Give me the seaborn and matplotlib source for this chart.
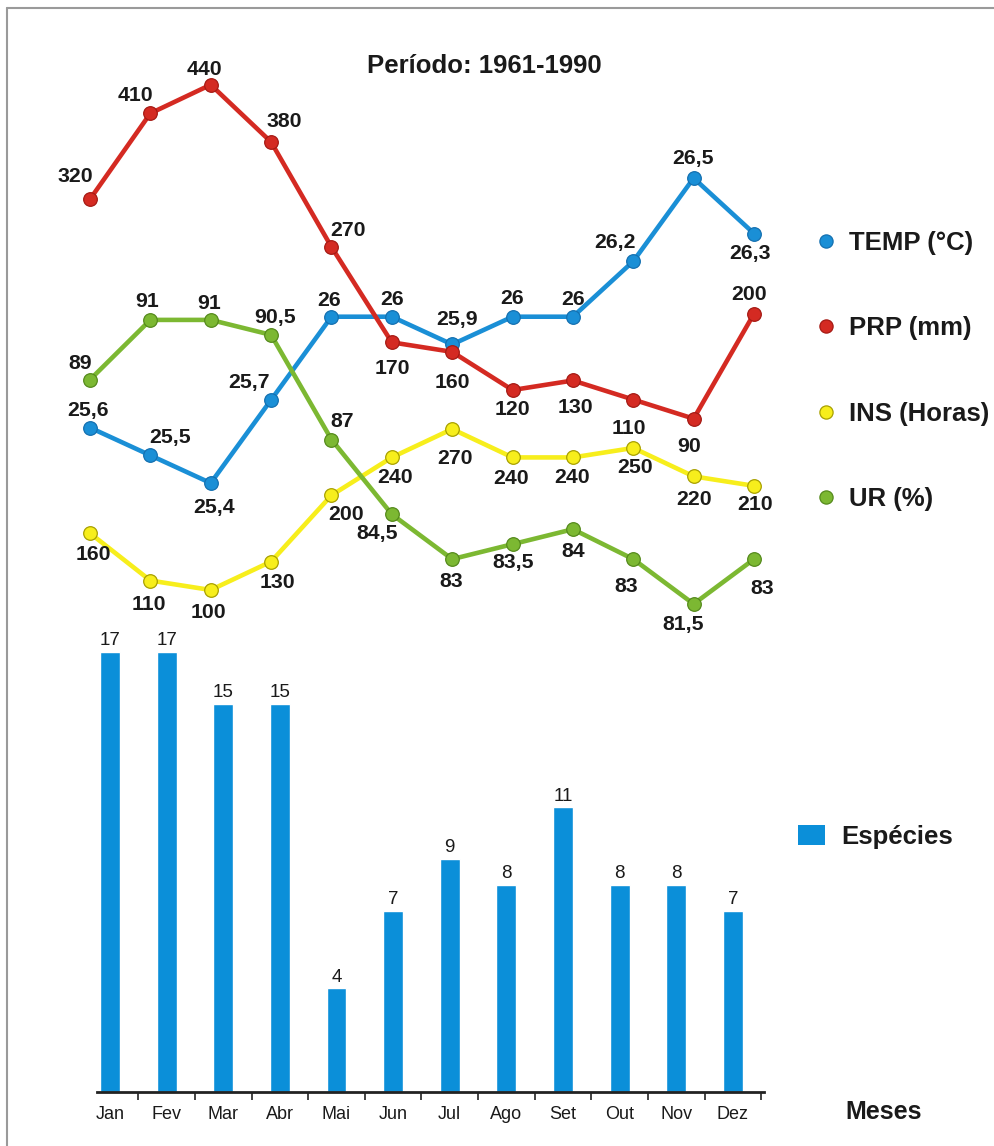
import numpy as np
import pandas as pd
import matplotlib
matplotlib.use("Agg")
import matplotlib.pyplot as plt
from matplotlib.lines import Line2D
from matplotlib.patches import Patch
import seaborn as sns

# ---------------- data ----------------
months = ["Jan", "Fev", "Mar", "Abr", "Mai", "Jun", "Jul", "Ago", "Set", "Out", "Nov", "Dez"]
temp = [25.6, 25.5, 25.4, 25.7, 26, 26, 25.9, 26, 26, 26.2, 26.5, 26.3]      # TEMP (°C)
prp = [320, 410, 440, 380, 270, 170, 160, 120, 130, 110, 90, 200]            # PRP (mm)
ins = [160, 110, 100, 130, 200, 240, 270, 240, 240, 250, 220, 210]           # INS (Horas)
ur = [89, 91, 91, 90.5, 87, 84.5, 83, 83.5, 84, 83, 81.5, 83]                # UR (%)
especies = [17, 17, 15, 15, 4, 7, 9, 8, 11, 8, 8, 7]                          # Espécies

title = "Período: 1961-1990"
xlabel = "Meses"

# value-label offsets in pixels (dx, dy) for each climate series
off_temp = [(-2, 17), (20, 18), (3, -24), (-22, 17), (-2, 16), (0, 17),
            (5, 25), (0, 18), (0, 17), (-18, 19), (-1, 20), (-4, -20)]
off_prp = [(-15, 23), (-15, 18), (-6, 15), (13, 20), (17, 16), (1, -26),
           (0, -31), (0, -19), (3, -27), (-4, -29), (-5, -28), (-5, 19)]
off_ins = [(3, -21), (-1, -24), (-2, -22), (6, -21), (15, -19), (3, -20),
           (3, -29), (-1, -21), (-1, -20), (2, -20), (0, -23), (1, -19)]
off_ur = [(-10, 16), (-3, 18), (-2, 16), (4, 17), (11, 18), (-15, -19),
          (-1, -22), (1, -18), (0, -22), (-7, -27), (-11, -21), (8, -29)]

df = pd.DataFrame({"mes": months, "pos": np.arange(len(months)),
                   "temp": temp, "prp": prp, "ins": ins, "ur": ur,
                   "especies": especies})

# ---------------- style ----------------
sns.set_theme(style="white")
plt.rcParams["font.family"] = ["Liberation Sans", "DejaVu Sans"]
plt.rcParams["text.color"] = "#1a1a1a"

W, H = 995, 1146
fig = plt.figure(figsize=(W / 100, H / 100), dpi=100)


def fx(px):
    return px / W


def fy(py):
    return 1 - py / H


def br(v):
    return f"{v:g}".replace(".", ",")


BLUE, BLUE_E = "#1a8fd6", "#1470b0"
RED, RED_E = "#d42a22", "#a51a14"
YEL, YEL_E = "#f7ee1c", "#a8a000"
GRN, GRN_E = "#7cb832", "#558a1c"
BAR = "#0b8fd9"

# ---------------- climate lines (each on its own scale) ----------------
ax_ins = fig.add_axes([fx(59.8), fy(640), 724.4 / W, 600 / H])
ax_ins.set_facecolor("none")
ax_tmp = ax_ins.twinx()
ax_prp = ax_ins.twinx()
ax_ur = ax_ins.twinx()

series = [
    (ax_ins, "ins", YEL, YEL_E, (47.2, 680.8), off_ins),
    (ax_tmp, "temp", BLUE, BLUE_E, (24.834, 26.998), off_temp),
    (ax_prp, "prp", RED, RED_E, (-142.0, 486.9), off_prp),
    (ax_ur, "ur", GRN, GRN_E, (80.296, 100.36), off_ur),
]

for ax, col, c, ec, ylim, offs in series:
    sns.lineplot(data=df, x="pos", y=col, ax=ax, color=c, linewidth=3.3,
                 marker="o", markersize=9.8, markeredgecolor=ec,
                 markeredgewidth=0.9, sort=False)
    ax.set_xlim(-0.5, 11.5)
    ax.set_ylim(*ylim)
    for xi, v, (dx, dy) in zip(df["pos"], df[col], offs):
        ax.annotate(br(v), (xi, v), xytext=(dx, dy), textcoords="offset pixels",
                    ha="center", va="center", fontsize=15.3, fontweight="bold",
                    color="#1a1a1a")
    ax.axis("off")

# ---------------- species bars ----------------
axb = fig.add_axes([fx(97.5), fy(1092), 666.6 / W, 465.8 / H])
axb.set_facecolor("none")
sns.barplot(data=df, x="mes", y="especies", ax=axb, color=BAR, width=0.35,
            saturation=1)
axb.bar_label(axb.containers[0], fmt="%d", padding=2, fontsize=13.5,
              color="#1a1a1a")
axb.set_xlim(-0.22, 11.55)
axb.set_ylim(0, 18)
axb.set_xlabel("")
axb.set_ylabel("")
axb.set_yticks([])
for s in ("left", "top", "right"):
    axb.spines[s].set_visible(False)
axb.spines["bottom"].set_linewidth(2)
axb.spines["bottom"].set_color("#222222")
axb.set_xticks(np.arange(12))
axb.set_xticklabels(months, fontsize=13)
axb.set_xticks(np.arange(12) + 0.5, minor=True)
axb.tick_params(axis="x", which="major", length=0, pad=10, labelcolor="#1a1a1a")
axb.tick_params(axis="x", which="minor", length=6, width=1.2,
                color="#222222", direction="out", bottom=True)

# ---------------- texts and legends ----------------
fig.text(fx(484), fy(66), title, ha="center", va="center",
         fontsize=18.5, fontweight="bold")
fig.text(fx(884), fy(1112), xlabel, ha="center", va="center",
         fontsize=18, fontweight="bold")

line_handles = [
    Line2D([], [], linestyle="none", marker="o", markersize=9.5,
           markerfacecolor=c, markeredgecolor=ec, markeredgewidth=0.9)
    for c, ec in [(BLUE, BLUE_E), (RED, RED_E), (YEL, YEL_E), (GRN, GRN_E)]
]
line_labels = ["TEMP (°C)", "PRP (mm)", "INS (Horas)", "UR (%)"]
leg1 = fig.legend(line_handles, line_labels, loc="center left",
                  bbox_to_anchor=(fx(819), fy(371)), frameon=False,
                  prop={"size": 18.5, "weight": "bold"}, handlelength=0.55,
                  handletextpad=0.62, labelspacing=2.38, borderpad=0,
                  borderaxespad=0)

leg2 = fig.legend([Patch(facecolor=BAR, edgecolor="none")], ["Espécies"],
                  loc="center left", bbox_to_anchor=(fx(798), fy(837)),
                  frameon=False, prop={"size": 18.5, "weight": "bold"},
                  handlelength=1.05, handleheight=0.82, handletextpad=0.65,
                  borderpad=0, borderaxespad=0)

# thin frame along the top and left edges
fig.add_artist(Line2D([fx(7), 1], [fy(8), fy(8)], color="#9a9a9a", lw=1.5))
fig.add_artist(Line2D([fx(7), fx(7)], [0, fy(8)], color="#9a9a9a", lw=1.5))

fig.savefig("out.png", dpi=100, facecolor="white")
